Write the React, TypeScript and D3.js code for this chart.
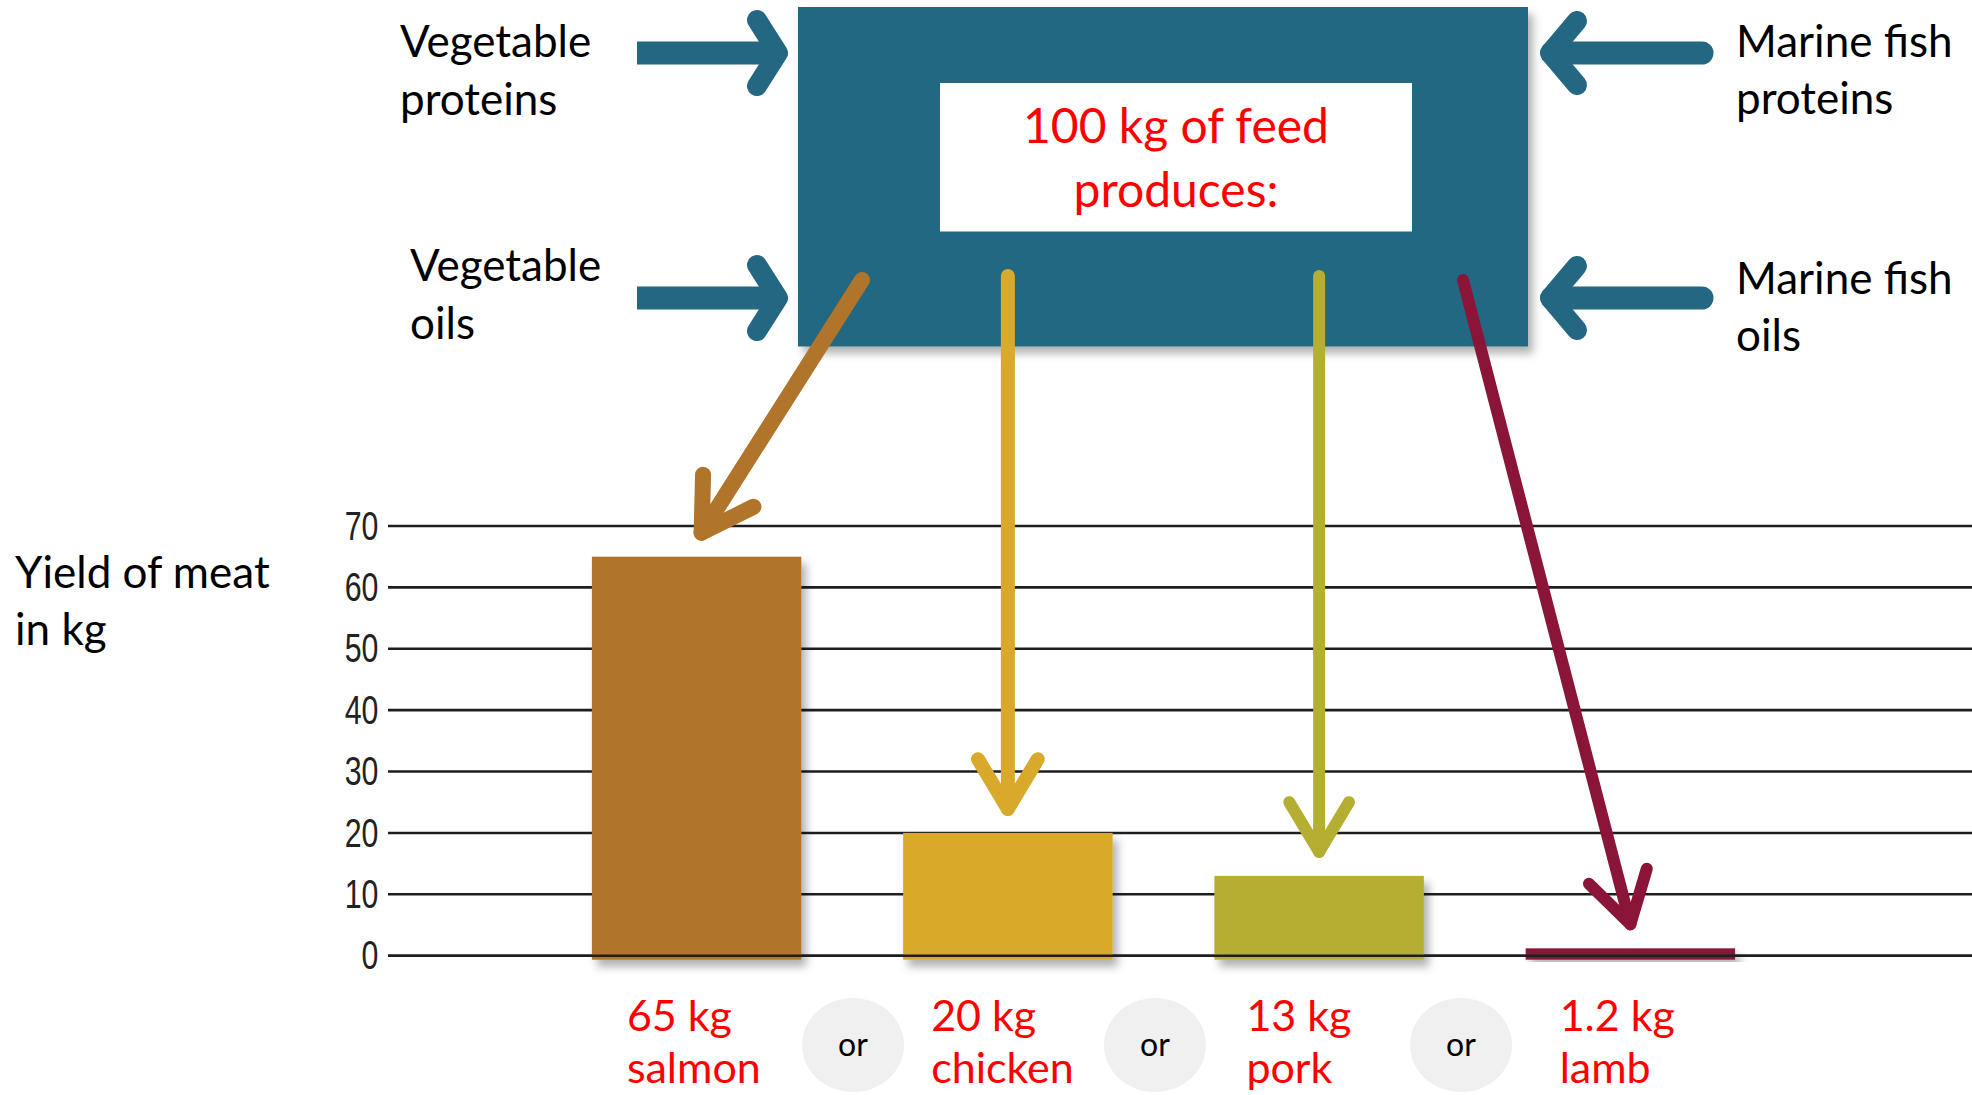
import React, { useEffect, useRef } from "react";
import * as d3 from "d3";

const W = 1972;
const H = 1095;

// ---- data ----
const categories = ["salmon", "chicken", "pork", "lamb"];
const yields = [65, 20, 13, 1.2];
const amountLabels = ["65 kg", "20 kg", "13 kg", "1.2 kg"];
const yTicks = [0, 10, 20, 30, 40, 50, 60, 70];
const leftInputs = [["Vegetable", "proteins"], ["Vegetable", "oils"]];
const rightInputs = [["Marine fish", "proteins"], ["Marine fish", "oils"]];
const feedLines = ["100 kg of feed", "produces:"];
const axisTitle = ["Yield of meat", "in kg"];
const separatorWord = "or";

// ---- styles / layout ----
const barColors = ["#b0742b", "#d9a92b", "#b4af33", "#8a1538"];
const arrowWidths = [16, 14, 12, 12];
const labelOffsets = [35, 28, 32, 34];
const BLUE = "#236782";
const FONT = "Lato, 'Open Sans', sans-serif";

export default function App() {
  const axisRef = useRef<SVGGElement>(null);

  const y = d3.scaleLinear().domain([0, 70]).range([955.7, 526]);
  const x = d3
    .scaleBand<string>()
    .domain(categories)
    .range([541, 1786])
    .paddingInner(0.327)
    .paddingOuter(0.1635);

  const gridX0 = 388;

  useEffect(() => {
    if (!axisRef.current) return;
    const g = d3.select(axisRef.current);
    g.call(d3.axisLeft(y).tickValues(yTicks).tickSize(0).tickPadding(0).tickFormat(d3.format("d")) as any);
    g.select(".domain").remove();
    g.attr("font-size", null).attr("font-family", null);
    g.selectAll("text")
      .attr("x", -13)
      .attr("transform", "scale(0.74,1)")
      .attr("font-family", "'Liberation Sans', Arial, sans-serif")
      .attr("font-size", 41)
      .attr("fill", "#222");
  }, []);

  // arrows from the feed box to the bars
  const starts: [number, number][] = [
    [862, 280],
    [x("chicken")! + x.bandwidth() / 2, 276],
    [x("pork")! + x.bandwidth() / 2, 276],
    [1463, 280],
  ];
  const tips: [number, number][] = categories.map((c, i) => [
    x(c)! + x.bandwidth() / 2 + (i === 0 ? 5 : 0),
    y(yields[i]) - 24,
  ]);

  const headPath = (s: [number, number], t: [number, number], len = 58, ang = 31) => {
    const a = Math.atan2(s[1] - t[1], s[0] - t[0]);
    const r = (ang * Math.PI) / 180;
    const p1 = [t[0] + len * Math.cos(a + r), t[1] + len * Math.sin(a + r)];
    const p2 = [t[0] + len * Math.cos(a - r), t[1] + len * Math.sin(a - r)];
    return `M${p1[0]},${p1[1]}L${t[0]},${t[1]}L${p2[0]},${p2[1]}`;
  };

  const inArrowYs = [53, 298];
  const orX = [853, 1155, 1461];

  return (
    <svg
      width={W}
      height={H}
      style={{ position: "absolute", left: 0, top: 0, background: "#fff" }}
      xmlns="http://www.w3.org/2000/svg"
    >
      <defs>
        <filter id="shadow" x="-10%" y="-10%" width="130%" height="130%">
          <feDropShadow dx="5" dy="7" stdDeviation="4" floodColor="#000" floodOpacity="0.3" />
        </filter>
      </defs>

      {/* gridlines */}
      {yTicks.map((t) => (
        <line key={t} x1={gridX0} x2={W} y1={y(t)} y2={y(t)} stroke="#1e1e1e" strokeWidth={2.6} />
      ))}
      <g ref={axisRef} transform={`translate(${gridX0},0)`} />

      {/* bars */}
      {categories.map((c, i) => (
        <rect
          key={c}
          x={x(c)}
          y={y(yields[i])}
          width={x.bandwidth()}
          height={y(0) - y(yields[i]) + 4}
          fill={barColors[i]}
          filter="url(#shadow)"
        />
      ))}
      <line x1={gridX0} x2={W} y1={y(0)} y2={y(0)} stroke="#1e1e1e" strokeWidth={2.6} />

      {/* feed box */}
      <rect x={798} y={7} width={730} height={339.5} fill={BLUE} filter="url(#shadow)" />
      <rect x={940} y={83} width={472} height={148.5} fill="#fff" />
      {feedLines.map((l, i) => (
        <text
          key={l}
          x={1176}
          y={143 + i * 63.5}
          textAnchor="middle"
          fontFamily={FONT}
          fontSize={48}
          fill="#ff0000"
        >
          {l}
        </text>
      ))}

      {/* input arrows, left */}
      {inArrowYs.map((cy, i) => (
        <g key={"l" + i} stroke={BLUE} fill="none">
          <line x1={637} x2={776} y1={cy} y2={cy} strokeWidth={23} />
          <path
            d={`M757,${cy - 33}L778,${cy}L757,${cy + 33}`}
            strokeWidth={20}
            strokeLinecap="round"
            strokeLinejoin="round"
          />
        </g>
      ))}
      {/* input arrows, right */}
      {inArrowYs.map((cy, i) => (
        <g key={"r" + i} stroke={BLUE} fill="none">
          <line x1={1552} x2={1702} y1={cy} y2={cy} strokeWidth={23} strokeLinecap="round" />
          <path
            d={`M1577,${cy - 32}L1550,${cy}L1577,${cy + 32}`}
            strokeWidth={20}
            strokeLinecap="round"
            strokeLinejoin="round"
          />
        </g>
      ))}

      {/* input labels */}
      {leftInputs.map((lines, i) =>
        lines.map((l, j) => (
          <text
            key={"li" + i + j}
            x={i === 0 ? 400 : 410}
            y={(i === 0 ? 57 : 281) + j * 57.5}
            fontFamily={FONT}
            fontSize={44}
            fill="#000"
          >
            {l}
          </text>
        ))
      )}
      {rightInputs.map((lines, i) =>
        lines.map((l, j) => (
          <text
            key={"ri" + i + j}
            x={1736}
            y={(i === 0 ? 57 : 294) + j * 57}
            fontFamily={FONT}
            fontSize={44}
            fill="#000"
          >
            {l}
          </text>
        ))
      )}

      {/* axis title */}
      {axisTitle.map((l, j) => (
        <text key={l} x={15} y={588 + j * 57} fontFamily={FONT} fontSize={44} fill="#000">
          {l}
        </text>
      ))}

      {/* output arrows */}
      {categories.map((c, i) => (
        <g key={"a" + c} stroke={barColors[i]} fill="none" strokeLinecap="round" strokeLinejoin="round">
          <line x1={starts[i][0]} y1={starts[i][1]} x2={tips[i][0]} y2={tips[i][1]} strokeWidth={arrowWidths[i]} />
          <path d={headPath(starts[i], tips[i])} strokeWidth={arrowWidths[i]} />
        </g>
      ))}

      {/* amount labels */}
      {categories.map((c, i) => (
        <g key={"t" + c}>
          <text x={x(c)! + labelOffsets[i]} y={1031} fontFamily={FONT} fontSize={43} fill="#ff0000">
            {amountLabels[i]}
          </text>
          <text x={x(c)! + labelOffsets[i]} y={1083} fontFamily={FONT} fontSize={43} fill="#ff0000">
            {c}
          </text>
        </g>
      ))}

      {/* "or" separators */}
      {orX.map((cx, i) => (
        <g key={"or" + i}>
          <ellipse cx={cx} cy={1045} rx={51} ry={47} fill="#f0f0f0" />
          <text x={cx} y={1056} textAnchor="middle" fontFamily={FONT} fontSize={32} fill="#000">
            {separatorWord}
          </text>
        </g>
      ))}
    </svg>
  );
}
